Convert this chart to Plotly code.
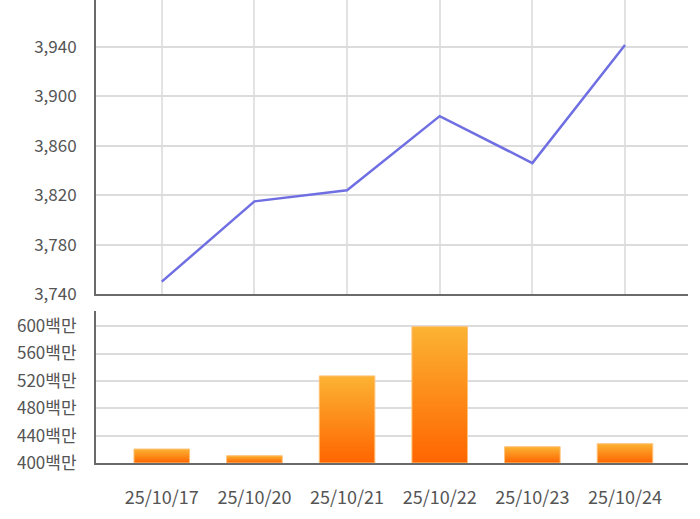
import plotly.graph_objects as go

dates = ["25/10/17", "25/10/20", "25/10/21", "25/10/22", "25/10/23", "25/10/24"]
prices = [3750, 3815, 3824, 3884, 3846, 3941.6]
volumes = [420.4, 410.7, 527.3, 599.3, 423.8, 428.2]  # 백만

price_ticks = [3740, 3780, 3820, 3860, 3900, 3940]
vol_ticks = [400, 440, 480, 520, 560, 600]
vol_tick_labels = [f"{v}백만" for v in vol_ticks]

xs = list(range(len(dates)))
bar_w = 0.6
base = 400

fig = go.Figure()

fig.add_trace(go.Scatter(
    x=xs, y=prices, mode="lines",
    line=dict(color="#6f6fe3", width=2.5),
    xaxis="x", yaxis="y", showlegend=False, hoverinfo="skip"))

for i, v in zip(xs, volumes):
    fig.add_trace(go.Scatter(
        x=[i - bar_w / 2, i - bar_w / 2, i + bar_w / 2, i + bar_w / 2, i - bar_w / 2],
        y=[base, v, v, base, base],
        mode="lines", fill="toself",
        line=dict(color="#ffc27a", width=1),
        fillgradient=dict(type="vertical",
                          colorscale=[[0, "#ff6500"], [1, "#fbb333"]]),
        xaxis="x2", yaxis="y2", showlegend=False, hoverinfo="skip"))

tick_font = dict(family="Noto Sans CJK KR", size=17, color="#555555")
xr = [-0.71, 5.68]

fig.update_layout(
    width=700, height=519,
    margin=dict(l=96, r=12, t=0, b=56, autoexpand=False),
    paper_bgcolor="white", plot_bgcolor="white",
    xaxis=dict(domain=[0, 1], range=xr, tickvals=xs, showticklabels=False,
               showgrid=True, gridcolor="#e2e2e2", gridwidth=2, zeroline=False,
               showline=True, linecolor="#6a6a6a", linewidth=2, anchor="y",
               automargin=False),
    yaxis=dict(domain=[0.365, 1], range=[3740, 3978], tickvals=price_ticks,
               tickformat=",", showgrid=True, gridcolor="#dcdcdc", gridwidth=2,
               zeroline=False, showline=True, linecolor="#6a6a6a", linewidth=2,
               tickfont=tick_font, ticklabelstandoff=14, anchor="x",
               automargin=False),
    xaxis2=dict(domain=[0, 1], range=xr, tickvals=xs, ticktext=dates,
                showgrid=False, zeroline=False, showline=True,
                linecolor="#6a6a6a", linewidth=2, anchor="y2",
                tickfont=dict(family="Noto Sans CJK KR", size=18, color="#555555"),
                ticklabelstandoff=17, automargin=False),
    yaxis2=dict(domain=[0, 0.328], range=[400, 622], tickvals=vol_ticks,
                ticktext=vol_tick_labels, showgrid=True, gridcolor="#dcdcdc",
                gridwidth=2, zeroline=False, showline=True, linecolor="#6a6a6a",
                linewidth=2, tickfont=tick_font, ticklabelstandoff=14,
                anchor="x2", automargin=False),
)

fig.write_html("out.html",
               config={"displayModeBar": False},
               post_script="document.body.style.margin='0';document.body.style.padding='0';")
